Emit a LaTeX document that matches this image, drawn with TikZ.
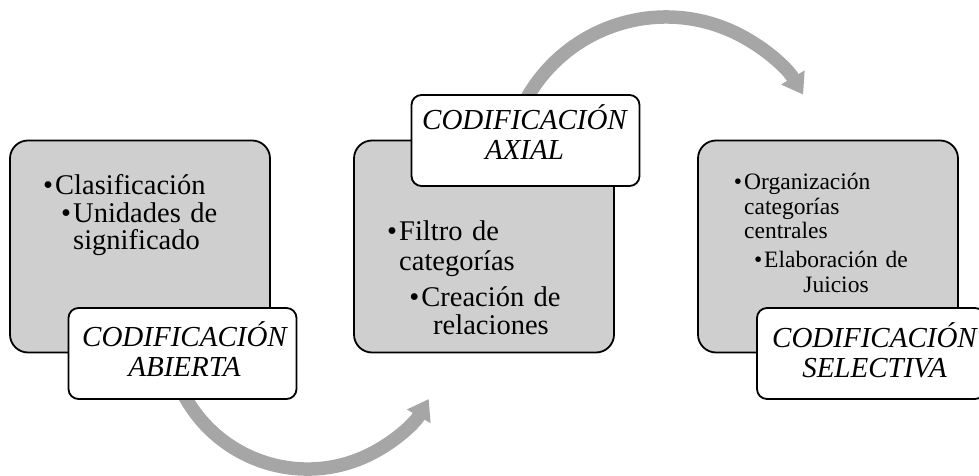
\documentclass[tikz,border=0pt]{standalone}
\usepackage{fontspec}
\setmainfont{Liberation Serif}
\usetikzlibrary{arrows.meta}
\definecolor{boxgray}{HTML}{CFCFCF}
\definecolor{arrowgray}{HTML}{A6A6A6}
\begin{document}
\begin{tikzpicture}[x=1pt,y=1pt,
  stepbox/.style={draw=black, line width=1.8pt, fill=boxgray, rounded corners=18pt,
    minimum width=260pt, minimum height=212pt, inner sep=0pt},
  tagbox/.style={draw=black, line width=1.8pt, fill=white, rounded corners=10pt,
    minimum width=228pt, minimum height=91pt, inner sep=0pt},
  tagtext/.style={font=\fontsize{29}{30}\selectfont\itshape, text width=229pt,
    align=center, inner sep=0pt, anchor=base},
  bodyleft/.style={inner sep=0pt, anchor=base west, text width=200pt, align=left},
  bodycenter/.style={inner sep=0pt, anchor=base, text width=200pt, align=center},
  flow/.style={draw=arrowgray, line width=13.5pt, -{Triangle[width=26pt,length=20pt]}}
]
\useasboundingbox (0,0) rectangle (979,476);

% flow arrows (behind everything)
\coordinate (a1s) at (180.6,87.8);
\coordinate (a2s) at (521.0,366.6);
\draw[flow] (a1s) arc[start angle=205, end angle=330, radius=140];
\draw[flow] (a2s) arc[start angle=155, end angle=31, radius=160];

% main boxes
\node[stepbox] (b1) at (140,229.5) {};
\node[stepbox] (b2) at (484,229.5) {};
\node[stepbox] (b3) at (828,229.5) {};

% box texts
\node[bodyleft, font=\fontsize{28.5}{27}\selectfont] (t11) at (55,281) {\llap{•\kern2pt}Clasificación};
\node[bodyleft, font=\fontsize{28.5}{27}\selectfont] (t12) at (73,253.5) {\llap{•\kern2pt}Unidades de\\significado};

\node[bodyleft, font=\fontsize{28.5}{30}\selectfont] (t21) at (399,235) {\llap{•\kern2pt}Filtro de\\categorías};
\node[bodycenter, font=\fontsize{28.5}{28}\selectfont] (t22) at (491,169) {\llap{•\kern2pt}Creación de\\relaciones};

\node[bodyleft, font=\fontsize{23.5}{24.5}\selectfont] (t31) at (744,286) {\llap{•\kern2pt}Organización\\categorías\\centrales};
\node[bodycenter, font=\fontsize{23.5}{25}\selectfont] (t32) at (836,208) {\llap{•\kern2pt}Elaboración de\\Juicios};

% label boxes
\node[tagbox] (l1) at (182.5,122.5) {};
\node[tagbox] (l2) at (525.5,335.5) {};
\node[tagbox] (l3) at (871,122.5) {};
\node[tagtext] (l1t) at (184.5,129) {CODIFICACIÓN\\ABIERTA};
\node[tagtext] (l2t) at (524.5,346) {CODIFICACIÓN\\AXIAL};
\node[tagtext] (l3t) at (874.5,128) {CODIFICACIÓN\\SELECTIVA};
\end{tikzpicture}
\end{document}
